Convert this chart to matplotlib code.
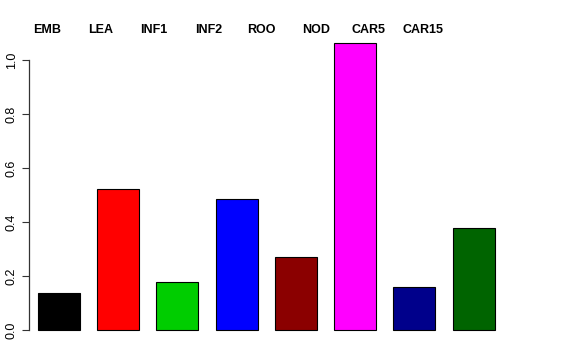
import matplotlib.pyplot as plt
import matplotlib

matplotlib.rcParams['font.family'] = ['Liberation Sans', 'DejaVu Sans']

# values
labels = ["EMB", "LEA", "INF1", "INF2", "ROO", "NOD", "CAR5", "CAR15"]
values = [0.137, 0.522, 0.178, 0.485, 0.270, 1.063, 0.159, 0.378]
colors = ["#000000", "#FF0000", "#00CD00", "#0000FF", "#8B0000", "#FF00FF", "#00008B", "#006400"]

step = 1.41
xpos = [step * i for i in range(len(values))]
label_x = [-0.29, 0.98, 2.26, 3.57, 4.83, 6.12, 7.38, 8.67]

fig = plt.figure(figsize=(5.76, 3.6), dpi=100)
W, H = 576, 360
left, right, top, bottom = 29, 503, 31.6, 341.5
ax = fig.add_axes([left / W, (H - bottom) / H, (right - left) / W, (bottom - top) / H])

ax.bar(xpos, values, width=1.0, color=colors, edgecolor="black", linewidth=0.8)

x0 = -30 / 42
ax.set_xlim(x0, (right - 59) / 42)
ymax = max(values)
ax.set_ylim(-0.04 * ymax, ymax * 1.04)

for s in ax.spines.values():
    s.set_visible(False)
ax.plot([x0, x0], [0, 1.0], color="#333333", linewidth=0.9, clip_on=False)
ax.set_xticks([])
ax.set_yticks([0.0, 0.2, 0.4, 0.6, 0.8, 1.0])
ax.set_yticklabels(["0.0", "0.2", "0.4", "0.6", "0.8", "1.0"], rotation=90, va="center")
ax.tick_params(axis="y", length=5, width=0.8, color="#333333", pad=3, labelsize=9)

for lx, lab in zip(label_x, labels):
    ax.text(lx, 1.11, lab, ha="center", va="center", fontsize=9, fontweight="bold", clip_on=False)

fig.savefig("out.png", dpi=100)
